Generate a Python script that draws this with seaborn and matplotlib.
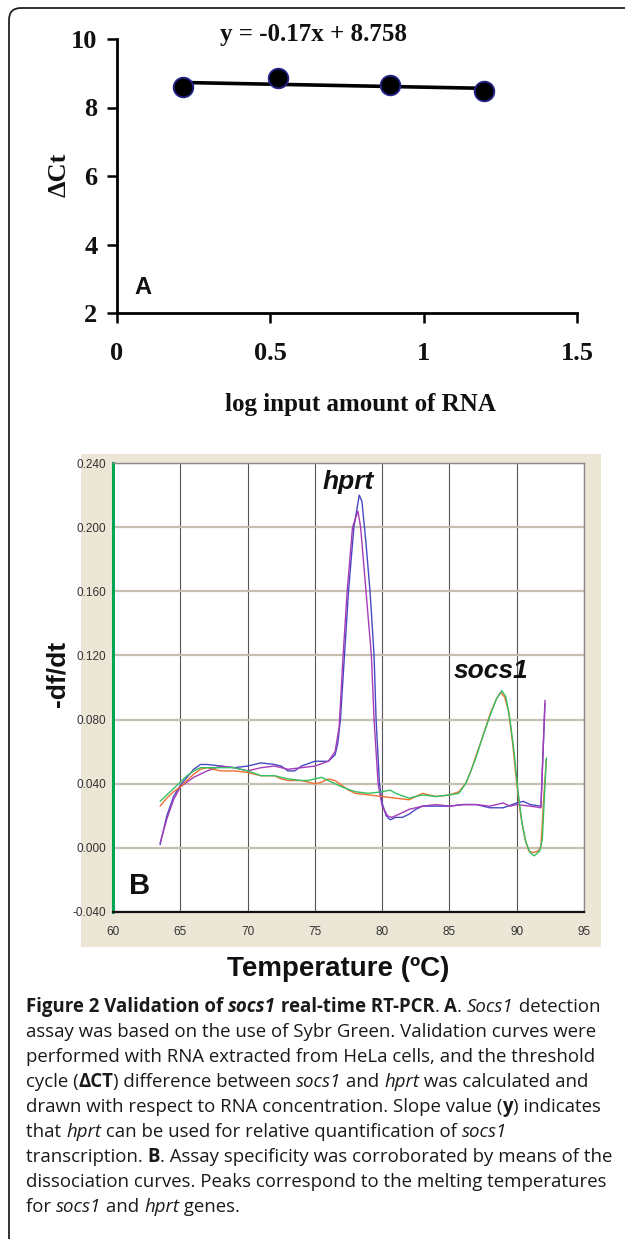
import numpy as np
import pandas as pd
import matplotlib
matplotlib.use("Agg")
import matplotlib.pyplot as plt
import seaborn as sns
from matplotlib.patches import FancyBboxPatch, Rectangle

# ---------------- Panel A data ----------------
log_rna = [0.215, 0.524, 0.890, 1.196]
delta_ct = [8.60, 8.85, 8.65, 8.48]
a_xticks = [0, 0.5, 1, 1.5]
a_xticklabels = ["0", "0.5", "1", "1.5"]
a_yticks = [2, 4, 6, 8, 10]
equation = "y = -0.17x + 8.758"

# ---------------- Panel B data (dissociation curves) ----------------
hprt1_t = [63.5, 64.0, 64.5, 65.0, 65.5, 66.0, 66.5, 67.0, 68.0, 69.0, 70.0, 71.0, 72.0, 72.5,
           73.0, 73.5, 74.0, 75.0, 76.0, 76.5, 76.7, 76.9, 77.2, 77.5, 77.9, 78.3, 78.5, 78.8,
           79.1, 79.4, 79.55, 79.8, 80.0, 80.3, 80.6, 81.0, 81.5, 82.0, 82.5, 83.0, 84.0, 85.0,
           86.0, 87.0, 88.0, 89.0, 90.0, 90.5, 91.0, 91.8, 92.1]
hprt1_v = [0.002, 0.020, 0.032, 0.039, 0.044, 0.049, 0.052, 0.052, 0.051, 0.050, 0.051, 0.053, 0.052, 0.051,
           0.048, 0.048, 0.051, 0.054, 0.054, 0.058, 0.065, 0.080, 0.120, 0.160, 0.200, 0.220, 0.216, 0.190,
           0.160, 0.120, 0.080, 0.040, 0.028, 0.020, 0.0175, 0.019, 0.019, 0.021, 0.024, 0.026, 0.026, 0.026,
           0.027, 0.027, 0.025, 0.025, 0.028, 0.029, 0.027, 0.026, 0.090]

hprt2_t = [63.5, 64.0, 64.5, 65.0, 65.5, 66.0, 67.0, 68.0, 69.0, 70.0, 71.0, 72.0, 73.0, 74.0,
           75.0, 76.0, 76.5, 76.8, 77.1, 77.4, 77.8, 78.2, 78.4, 78.8, 79.2, 79.4, 79.7, 80.0,
           80.4, 80.7, 81.0, 81.5, 82.0, 83.0, 84.0, 85.0, 86.0, 87.0, 88.0, 89.0, 89.5, 90.0,
           91.0, 91.8, 92.1]
hprt2_v = [0.003, 0.018, 0.030, 0.038, 0.041, 0.044, 0.048, 0.051, 0.050, 0.048, 0.050, 0.051, 0.049, 0.050,
           0.051, 0.054, 0.060, 0.075, 0.120, 0.160, 0.200, 0.210, 0.200, 0.160, 0.120, 0.080, 0.040, 0.026,
           0.020, 0.019, 0.020, 0.022, 0.024, 0.026, 0.027, 0.026, 0.027, 0.027, 0.026, 0.028, 0.026, 0.027,
           0.026, 0.025, 0.092]

socs1a_t = [63.5, 64.0, 64.5, 65.0, 65.5, 66.0, 66.5, 67.0, 68.0, 69.0, 70.0, 71.0, 72.0, 72.5,
            73.0, 74.0, 75.0, 75.5, 76.0, 76.5, 77.0, 77.5, 78.0, 79.0, 80.0, 81.0, 82.0, 82.5,
            83.0, 83.5, 84.0, 85.0, 85.7, 86.2, 86.6, 87.0, 87.5, 88.0, 88.5, 88.8, 89.1, 89.4,
            89.7, 90.0, 90.3, 90.6, 90.9, 91.2, 91.6, 91.8, 92.0, 92.2]
socs1a_v = [0.026, 0.031, 0.035, 0.038, 0.042, 0.046, 0.049, 0.050, 0.048, 0.048, 0.047, 0.045, 0.045, 0.043,
            0.042, 0.042, 0.040, 0.041, 0.043, 0.042, 0.039, 0.036, 0.034, 0.033, 0.032, 0.031, 0.030, 0.032,
            0.034, 0.033, 0.032, 0.033, 0.035, 0.040, 0.048, 0.058, 0.070, 0.083, 0.093, 0.097, 0.094, 0.085,
            0.065, 0.040, 0.020, 0.006, -0.002, -0.003, -0.002, 0.001, 0.030, 0.055]

socs1b_t = [63.5, 64.0, 64.5, 65.0, 65.5, 66.0, 66.5, 67.0, 68.0, 69.0, 70.0, 71.0, 72.0, 73.0,
            74.0, 74.5, 75.0, 75.5, 76.0, 77.0, 78.0, 79.0, 80.0, 80.6, 81.0, 82.0, 83.0, 84.0,
            85.0, 85.7, 86.2, 86.6, 87.0, 87.5, 88.0, 88.5, 88.9, 89.2, 89.5, 89.8, 90.1, 90.4,
            90.7, 91.0, 91.3, 91.7, 91.9, 92.2]
socs1b_v = [0.029, 0.033, 0.037, 0.041, 0.045, 0.048, 0.050, 0.050, 0.050, 0.050, 0.048, 0.045, 0.045, 0.043,
            0.042, 0.042, 0.043, 0.044, 0.042, 0.038, 0.035, 0.034, 0.035, 0.036, 0.034, 0.031, 0.033, 0.032,
            0.033, 0.034, 0.040, 0.048, 0.057, 0.070, 0.082, 0.093, 0.098, 0.094, 0.080, 0.060, 0.035, 0.015,
            0.003, -0.003, -0.005, -0.002, 0.005, 0.056]

curve_names = ["hprt_1", "hprt_2", "socs1_1", "socs1_2"]
curve_colors = {"hprt_1": "#4848c4", "hprt_2": "#a63cb8", "socs1_1": "#f07030", "socs1_2": "#34c064"}
b_xticks = [60, 65, 70, 75, 80, 85, 90, 95]
b_yticks = [-0.04, 0.0, 0.04, 0.08, 0.12, 0.16, 0.20, 0.24]

caption_lines = [
    [("Figure 2 Validation of ", "b"), ("socs1", "bi"), (" real-time RT-PCR", "b"), (". ", "r"),
     ("A", "b"), (". ", "r"), ("Socs1", "i"), (" detection", "r")],
    [("assay was based on the use of Sybr Green. Validation curves were", "r")],
    [("performed with RNA extracted from HeLa cells, and the threshold", "r")],
    [("cycle (", "r"), ("\u0394CT", "b"), (") difference between ", "r"), ("socs1", "i"), (" and ", "r"),
     ("hprt", "i"), (" was calculated and", "r")],
    [("drawn with respect to RNA concentration. Slope value (", "r"), ("y", "b"), (") indicates", "r")],
    [("that ", "r"), ("hprt", "i"), (" can be used for relative quantification of ", "r"), ("socs1", "i")],
    [("transcription. ", "r"), ("B", "b"), (". Assay specificity was corroborated by means of the", "r")],
    [("dissociation curves. Peaks correspond to the melting temperatures", "r")],
    [("for ", "r"), ("socs1", "i"), (" and ", "r"), ("hprt", "i"), (" genes.", "r")],
]

# ---------------- Figure ----------------
W, H = 625, 1239
sns.set_theme(style="white")
plt.rcParams['font.family'] = ['DejaVu Sans']
fig = plt.figure(figsize=(W / 100, H / 100), dpi=100)
fig.patch.set_facecolor("white")


def fx(px):
    return px / W


def fy(py):
    return 1 - py / H


serif = ["Liberation Serif", "DejaVu Serif"]
sans = ["Liberation Sans", "DejaVu Sans"]
narrow = ["Liberation Sans Narrow", "Liberation Sans", "DejaVu Sans"]
cap_font = ["Open Sans", "DejaVu Sans"]

# background pixel axes (for border + beige panel)
bg = fig.add_axes([0, 0, 1, 1], zorder=-5)
bg.set_xlim(0, W)
bg.set_ylim(H, 0)
bg.axis("off")
bg.add_patch(FancyBboxPatch((9, 8), 700, 1245, boxstyle="round,pad=0,rounding_size=12",
                            fill=False, edgecolor="#222222", lw=1.3))
bg.add_patch(Rectangle((81, 454), 601 - 81, 947 - 454, facecolor="#ece6d7", edgecolor="none"))

# ---------------- Panel A ----------------
axA = fig.add_axes([fx(117), fy(313), fx(577) - fx(117), fy(39) - fy(313)])
axA.set_facecolor("none")
sns.regplot(x=log_rna, y=delta_ct, ci=None, ax=axA, color="black",
            scatter_kws=dict(s=200, facecolor="black", edgecolor="#24248a", linewidths=1.3, zorder=3, alpha=1),
            line_kws=dict(lw=2.6, color="black", zorder=2))
axA.set_xlim(0, 1.5)
axA.set_ylim(2, 10)
axA.set_xticks(a_xticks)
axA.set_xticklabels(a_xticklabels)
axA.set_yticks(a_yticks)
axA.set_xlabel("")
axA.set_ylabel("")
for s in ["top", "right"]:
    axA.spines[s].set_visible(False)
for s in ["left", "bottom"]:
    axA.spines[s].set_color("black")
    axA.spines[s].set_linewidth(2.0)
axA.tick_params(axis="both", direction="out", length=7, width=1.8, color="black",
                bottom=True, left=True, top=False, right=False)
axA.tick_params(axis="x", pad=14)
axA.tick_params(axis="y", pad=7)
for lab in axA.get_xticklabels() + axA.get_yticklabels():
    lab.set_fontfamily(serif)
    lab.set_fontweight("bold")
    lab.set_fontsize(19)
    lab.set_color("#111111")

# ---------------- Panel B ----------------
axB = fig.add_axes([fx(113), fy(912), fx(584) - fx(113), fy(463) - fy(912)])
axB.set_facecolor("white")
frames = []
for name, t, v in [("hprt_1", hprt1_t, hprt1_v), ("hprt_2", hprt2_t, hprt2_v),
                   ("socs1_1", socs1a_t, socs1a_v), ("socs1_2", socs1b_t, socs1b_v)]:
    frames.append(pd.DataFrame({"temp": t, "dfdt": v, "curve": name}))
df = pd.concat(frames, ignore_index=True)
sns.lineplot(data=df, x="temp", y="dfdt", hue="curve", hue_order=curve_names, palette=curve_colors,
             estimator=None, sort=False, lw=1.0, legend=False, ax=axB, zorder=3)
axB.set_xlim(60, 95)
axB.set_ylim(-0.04, 0.24)
axB.set_xticks(b_xticks)
axB.set_xticklabels([str(v) for v in b_xticks])
axB.set_yticks(b_yticks)
axB.set_yticklabels([f"{v:.3f}" for v in b_yticks])
axB.set_xlabel("")
axB.set_ylabel("")
axB.xaxis.grid(True, color="#555555", lw=0.8, zorder=1)
axB.yaxis.grid(True, color="#c6bfb2", lw=1.6, zorder=1)
axB.set_axisbelow(True)
axB.spines["left"].set_color("#00a651")
axB.spines["left"].set_linewidth(2.2)
axB.spines["bottom"].set_color("#111111")
axB.spines["bottom"].set_linewidth(1.6)
for s in ["top", "right"]:
    axB.spines[s].set_color("#8a8a8a")
    axB.spines[s].set_linewidth(1.0)
axB.tick_params(axis="both", length=0)
axB.tick_params(axis="x", pad=10)
axB.tick_params(axis="y", pad=5)
for lab in axB.get_xticklabels() + axB.get_yticklabels():
    lab.set_fontfamily(narrow)
    lab.set_fontsize(8.5)
    lab.set_color("#333333")

axB.text(77.5, 0.228, "hprt", fontfamily=sans, fontweight="bold", fontstyle="italic",
         fontsize=19, color="#111111", ha="center", va="center", zorder=5)
axB.text(88.1, 0.110, "socs1", fontfamily=sans, fontweight="bold", fontstyle="italic",
         fontsize=19, color="#111111", ha="center", va="center", zorder=5)

# ---------------- overlay texts ----------------
ov = fig.add_axes([0, 0, 1, 1], zorder=10)
ov.set_xlim(0, W)
ov.set_ylim(H, 0)
ov.axis("off")
ov.patch.set_alpha(0)

ov.text(314, 35, equation, fontfamily=serif, fontweight="bold", fontsize=18, ha="center", va="center",
        color="#111111")
ov.text(59, 175, "\u0394Ct", fontfamily=serif, fontweight="bold", fontsize=19, rotation=90,
        ha="center", va="center", color="#111111")
ov.text(360, 405, "log input amount of RNA", fontfamily=serif, fontweight="bold", fontsize=18,
        ha="center", va="center", color="#111111")
ov.text(143, 288, "A", fontfamily=sans, fontweight="bold", fontsize=17, ha="center", va="center",
        color="#111111")
ov.text(140, 886, "B", fontfamily=sans, fontweight="bold", fontsize=21, ha="center", va="center",
        color="#111111")
ov.text(57, 674, "-df/dt", fontfamily=sans, fontweight="bold", fontsize=19, rotation=90,
        ha="center", va="center", color="#111111")
ov.text(338, 969, "Temperature (\u00baC)", fontfamily=sans, fontweight="bold", fontsize=20,
        ha="center", va="center", color="#111111")

# ---------------- caption ----------------
renderer = fig.canvas.get_renderer()
style_map = {"r": dict(fontweight="normal", fontstyle="normal"),
             "b": dict(fontweight="bold", fontstyle="normal"),
             "i": dict(fontweight="normal", fontstyle="italic"),
             "bi": dict(fontweight="bold", fontstyle="italic")}


def seg_width(txt, size, st):
    kw = dict(fontfamily=cap_font, fontsize=size, **style_map[st])
    t1 = ov.text(0, 0, "x" + txt + "x", **kw)
    w1 = t1.get_window_extent(renderer).width
    t1.remove()
    t2 = ov.text(0, 0, "xx", **kw)
    w2 = t2.get_window_extent(renderer).width
    t2.remove()
    return w1 - w2


line_widths = [sum(seg_width(txt, 10, st) for txt, st in line) for line in caption_lines]
cap_size = 10 * 588 / max(line_widths)
x0 = 26
y_first = 1012
line_h = 25.0
for i, line in enumerate(caption_lines):
    x = x0
    y = y_first + i * line_h
    for txt, st in line:
        ov.text(x, y, txt, fontfamily=cap_font, fontsize=cap_size, color="#1a1a1a",
                ha="left", va="baseline", **style_map[st])
        x += seg_width(txt, cap_size, st)

fig.savefig("out.png", dpi=100, facecolor="white")
